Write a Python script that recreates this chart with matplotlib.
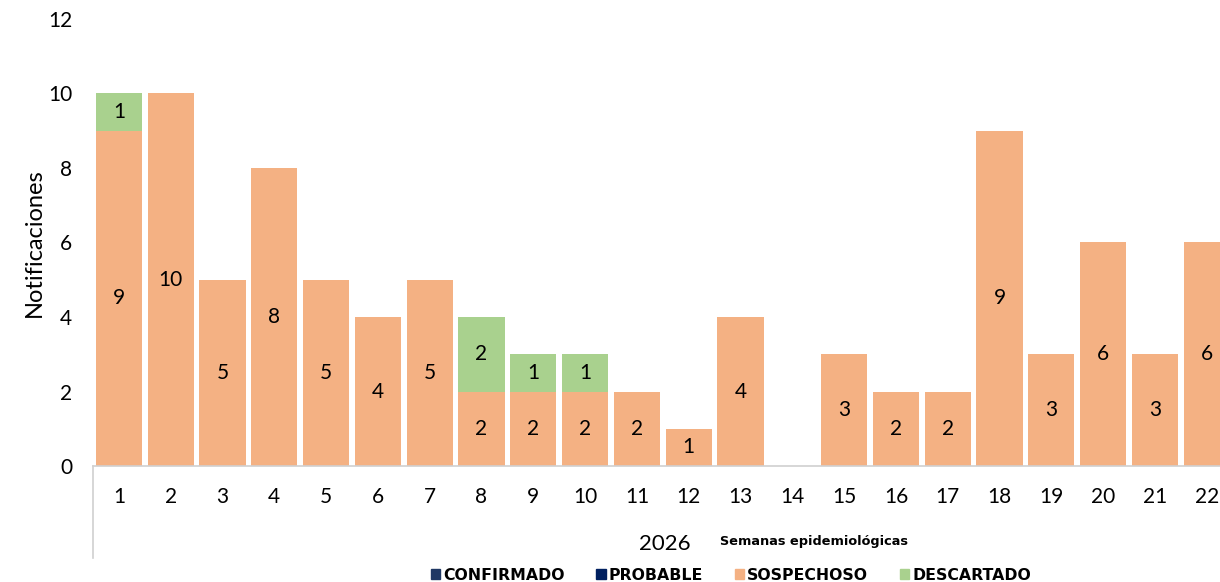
import matplotlib.pyplot as plt
import numpy as np
from matplotlib.patches import Patch

plt.rcParams['font.family'] = ['Lato', 'DejaVu Sans']

# data
semanas = [str(i) for i in range(1, 23)]
confirmado = [0] * 22
probable = [0] * 22
sospechoso = [9, 10, 5, 8, 5, 4, 5, 2, 2, 2, 2, 1, 4, 0, 3, 2, 2, 9, 3, 6, 3, 6]
descartado = [1, 0, 0, 0, 0, 0, 0, 2, 1, 1, 0, 0, 0, 0, 0, 0, 0, 0, 0, 0, 0, 0]
anio = "2026"

c_conf = '#1f3864'
c_prob = '#002060'
c_sosp = '#f4b183'
c_desc = '#a9d18e'

fig = plt.figure(figsize=(12.2, 5.82), dpi=100)
ax = fig.add_axes([93 / 1220, 116 / 582, 51.8 * 22 / 1220, 447 / 582])

x = np.arange(1, 23)
w = 0.89
conf = np.array(confirmado)
prob = np.array(probable)
sosp = np.array(sospechoso)
desc = np.array(descartado)

ax.bar(x, conf, w, color=c_conf)
ax.bar(x, prob, w, bottom=conf, color=c_prob)
b_s = ax.bar(x, sosp, w, bottom=conf + prob, color=c_sosp)
b_d = ax.bar(x, desc, w, bottom=conf + prob + sosp, color=c_desc)

for bars, vals in [(b_s, sosp), (b_d, desc)]:
    for r, v in zip(bars, vals):
        if v > 0:
            ax.text(r.get_x() + r.get_width() / 2, r.get_y() + r.get_height() / 2, str(v),
                    ha='center', va='center', fontsize=15, color='black')

ax.set_xlim(0.5, 22.5)
ax.set_ylim(0, 12)
ax.set_yticks(range(0, 13, 2))
ax.set_xticks(x)
ax.set_xticklabels(semanas)
ax.tick_params(axis='y', length=0, pad=15, labelsize=15)
ax.tick_params(axis='x', length=0, pad=15, labelsize=15)
for s in ['top', 'right', 'left']:
    ax.spines[s].set_visible(False)
ax.spines['bottom'].set_color('#d0d0d0')
ax.spines['bottom'].set_linewidth(1.2)
ax.set_ylabel('Notificaciones', fontsize=17)
ax.yaxis.set_label_coords(-48 / (51.8 * 22), 0.5)

# multi-level category separator
fig.add_artist(plt.Line2D([93 / 1220, 93 / 1220], [24 / 582, 116 / 582],
                          color='#d0d0d0', lw=1.2))

fig.text(665 / 1220, 38 / 582, anio, ha='center', va='center', fontsize=16)
fig.text(720 / 1220, 41 / 582, 'Semanas epidemiológicas', ha='left', va='center',
         fontsize=9.3, fontweight='bold', family=['DejaVu Sans'])

handles = [Patch(color=c_conf), Patch(color=c_prob), Patch(color=c_sosp), Patch(color=c_desc)]
labels = ['CONFIRMADO', 'PROBABLE', 'SOSPECHOSO', 'DESCARTADO']
fig.legend(handles, labels, loc='center', bbox_to_anchor=(731 / 1220, 7 / 582), ncol=4,
           frameon=False, prop={'family': 'DejaVu Sans', 'weight': 'bold', 'size': 11.3},
           handlelength=0.6, handleheight=0.6, handletextpad=0.2, columnspacing=2.0)

fig.savefig('out.png', dpi=100)
